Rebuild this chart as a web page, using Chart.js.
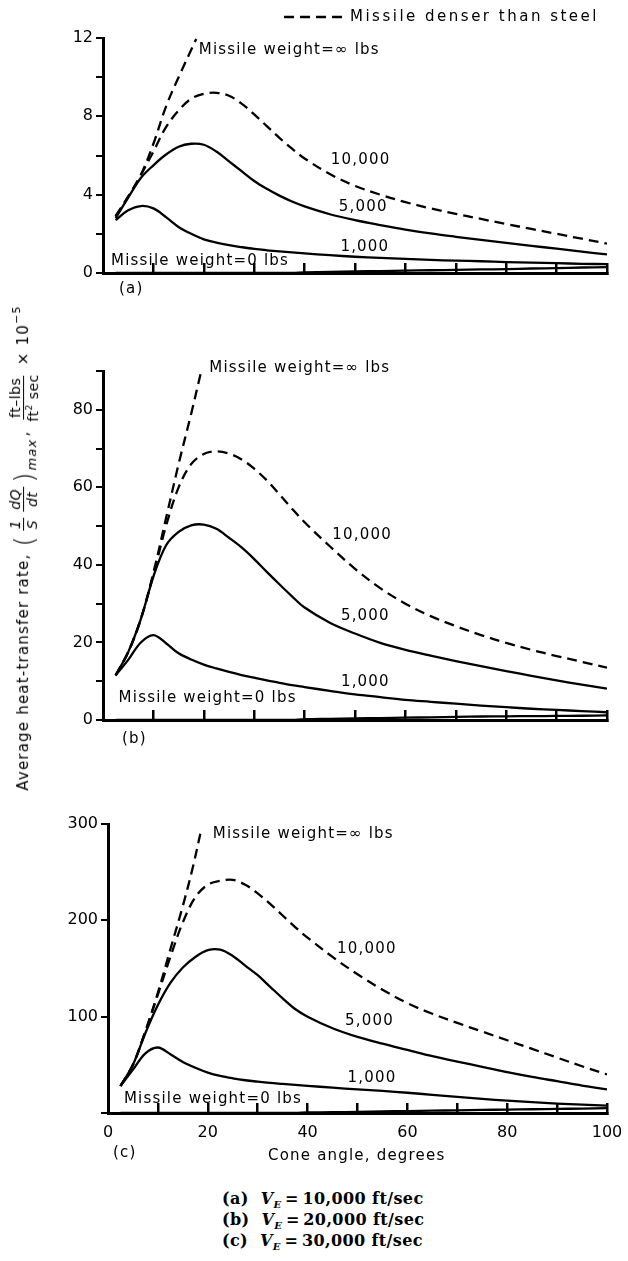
<!DOCTYPE html>
<html><head><meta charset="utf-8">
<script src="https://cdn.jsdelivr.net/npm/chart.js@4.4.1/dist/chart.umd.min.js"></script>
<style>
html,body{margin:0;padding:0;background:#fff;}
body{width:628px;height:1261px;position:relative;overflow:hidden;font-family:"DejaVu Sans",sans-serif;color:#000;}
canvas{position:absolute;left:0;}
.t{position:absolute;white-space:nowrap;font-size:15px;letter-spacing:1.2px;line-height:1;}
#ytitle{left:24px;top:548px;transform:translate(-50%,-50%) rotate(-90deg);display:flex;align-items:center;}
.fr{display:inline-flex;flex-direction:column;align-items:center;font-size:14px;line-height:1.15;margin:0 3px;letter-spacing:0.5px;}
.fr .n{border-bottom:1px solid #000;padding:0 2px;}
.i{font-style:italic;}
.big{font-size:26px;font-weight:200;margin:0 1px;}
.sub{font-size:13px;position:relative;top:8px;font-style:italic;margin-right:2px;}
.sup{font-size:11px;position:relative;top:-7px;}
.cap{position:absolute;left:222px;top:1188px;font-family:"DejaVu Serif",serif;font-weight:bold;font-size:16px;letter-spacing:0.4px;line-height:21px;white-space:nowrap;}
.cap div{height:21px;}
.cap .e{font-size:10px;position:relative;top:4px;line-height:0;}
</style></head><body>
<canvas id="ca" width="628" height="300" style="top:0;width:628px;height:300px"></canvas>
<canvas id="cb" width="628" height="420" style="top:330px;width:628px;height:420px"></canvas>
<canvas id="cc" width="628" height="380" style="top:780px;width:628px;height:380px"></canvas>

<div id="ytitle" class="t">Average heat-transfer rate,&nbsp;<span class="big">(</span><span class="fr i"><span class="n">1</span><span>S</span></span><span class="fr i"><span class="n">dQ</span><span>dt</span></span><span class="big">)</span><span class="sub">max</span>,&nbsp;<span class="fr"><span class="n">ft–lbs</span><span>ft<sup style="font-size:9px">2</sup> sec</span></span>&nbsp;× 10<span class="sup">−5</span></div>

<div class="t" style="left:119px;top:281px;">(a)</div>
<div class="t" style="left:122px;top:731px;">(b)</div>
<div class="t" style="left:113px;top:1145px;">(c)</div>
<div class="t" style="left:268px;top:1148px;">Cone angle, degrees</div>

<div class="cap">
<div>(a)&nbsp;&nbsp;<i>V<span class="e">E</span></i>&thinsp;=&thinsp;10,000 ft/sec</div>
<div>(b)&nbsp;&nbsp;<i>V<span class="e">E</span></i>&thinsp;=&thinsp;20,000 ft/sec</div>
<div>(c)&nbsp;&nbsp;<i>V<span class="e">E</span></i>&thinsp;=&thinsp;30,000 ft/sec</div>
</div>

<script>
// ---- data (cone angle, degrees) ----
const angles = [2.5,5,7.5,10,12.5,15,17.5,20,22.5,25,27.5,30,32.5,35,37.5,40,45,50,55,60,65,70,75,80,85,90,95,100];

// Panel (a) V_E = 10,000 ft/sec  (x10^-5)
const infAnglesA = [2.5,5,7.5,10,12.5,15,17.5,18.5];
const infA   = [2.9,3.9,5.0,6.6,8.5,10.0,11.4,11.95];
const w10000A = [2.9,3.9,5.0,6.2,7.45,8.3,8.9,9.15,9.2,9.05,8.65,8.1,7.5,6.9,6.35,5.85,5.05,4.45,4.0,3.62,3.3,3.02,2.76,2.5,2.25,2.0,1.75,1.5];
const w5000A  = [2.8,3.85,4.85,5.5,6.05,6.45,6.6,6.55,6.2,5.7,5.2,4.7,4.3,3.95,3.65,3.4,3.0,2.7,2.45,2.22,2.02,1.85,1.69,1.54,1.39,1.24,1.09,0.95];
const w1000A  = [2.7,3.2,3.42,3.3,2.85,2.35,2.0,1.72,1.55,1.42,1.32,1.23,1.16,1.1,1.05,1.0,0.91,0.83,0.77,0.72,0.67,0.63,0.6,0.56,0.53,0.5,0.47,0.45];
const w0A     = [0,0,0,0,0,0,0,0,0,0,0,0,0,0,0,0.03,0.06,0.08,0.1,0.12,0.14,0.16,0.18,0.2,0.23,0.25,0.28,0.3];

// Panel (b) V_E = 20,000 ft/sec
const infAnglesB = [2.5,5,7.5,10,12.5,15,17.5,19.5];
const infB   = [11.5,17.5,26,38,52,66,79,90];
const w10000B = [11.5,17.5,26,37.5,50,60,66,68.6,69.3,68.7,67.2,64.8,61.8,58.2,54.5,51,44.8,39,34,30,26.8,24.2,21.9,19.9,18.1,16.5,15,13.5];
const w5000B  = [11.5,17.5,26,37,45,48.5,50.2,50.4,49.3,47,44.5,41.5,38.2,35,31.9,29,25.1,22.3,19.9,18.1,16.6,15.2,13.9,12.6,11.4,10.2,9.1,8.1];
const w1000B  = [11.5,15.5,20,21.9,19.8,17.2,15.6,14.3,13.3,12.4,11.6,10.9,10.2,9.6,9.0,8.5,7.5,6.6,5.9,5.2,4.7,4.2,3.7,3.3,2.9,2.6,2.3,2.0];
const w0B     = [0,0,0,0,0,0,0,0,0,0,0,0,0,0,0,0.2,0.3,0.4,0.5,0.6,0.7,0.8,0.9,0.95,1.0,1.05,1.1,1.2];

// Panel (c) V_E = 30,000 ft/sec
const infAnglesC = [2.5,5,7.5,10,12.5,15,17,18.5];
const infC   = [28,50,85,125,170,215,255,290];
const w10000C = [28,50,85,123,162,198,224,237,241,242,237,228,217,205,193,182,162,144,128,114,103,93.5,84.5,75.5,66.5,57.5,48.5,40];
const w5000C  = [28,50,83,112,135,151,162,169,169.5,163,153,143,131,119,108,100,88,79,72,65.5,59,53.3,48,42.5,37.5,33,28.5,24.5];
const w1000C  = [28,45,62,68,61,53,47,42,38.5,36,34,32.5,31.2,30.2,29.2,28.2,26.3,24.5,22.9,21,18.9,16.7,14.6,12.8,11.2,9.8,8.7,7.7];
const w0C     = [0,0,0,0,0,0,0,0,0,0,0,0,0,0,0,0.5,0.8,1.2,1.6,2,2.4,2.8,3.2,3.5,3.9,4.2,4.6,5];

const xTickMarks = [0,10,20,30,40,50,60,70,80,90,100];
const xTickLabels = [0,20,40,60,80,100];
const legendText = 'Missile denser than steel';

// curve labels (data coordinates)
const labelsA = [
  {text:'Missile weight=∞ lbs', x:19, y:11.4},
  {text:'10,000', x:45.2, y:5.77},
  {text:'5,000', x:46.8, y:3.37},
  {text:'1,000', x:47.1, y:1.33},
  {text:'Missile weight=0 lbs', x:1.6, y:0.6}
];
const labelsB = [
  {text:'Missile weight=∞ lbs', x:21.1, y:90.8},
  {text:'10,000', x:45.5, y:47.6},
  {text:'5,000', x:47.2, y:26.8},
  {text:'1,000', x:47.2, y:9.9},
  {text:'Missile weight=0 lbs', x:3.1, y:5.7}
];
const labelsC = [
  {text:'Missile weight=∞ lbs', x:21, y:290},
  {text:'10,000', x:45.9, y:170},
  {text:'5,000', x:47.5, y:95.5},
  {text:'1,000', x:48, y:36},
  {text:'Missile weight=0 lbs', x:3.2, y:14.5}
];

const pts = (xs, ys) => xs.map((a,i)=>({x:a, y:ys[i]}));
const DASH = [10,6];
function sets(inf, infX, w10, w5, w1, w0){
  return [
    {label:'∞ lbs', data:pts(infX, inf), borderDash:DASH},
    {label:'10,000 lbs', data:pts(angles, w10), borderDash:DASH},
    {label:'5,000 lbs', data:pts(angles, w5)},
    {label:'1,000 lbs', data:pts(angles, w1)},
    {label:'0 lbs', data:pts(angles, w0)}
  ];
}

const annotate = {
  id:'annotate',
  afterDraw(chart, args, o){
    const {ctx, scales:{x, y}} = chart;
    ctx.save();
    ctx.fillStyle = '#000';
    ctx.font = '15px "DejaVu Sans"';
    ctx.letterSpacing = '1.2px';
    ctx.textBaseline = 'middle'; ctx.textAlign = 'left';
    o.items.forEach(l => ctx.fillText(l.text, x.getPixelForValue(l.x), y.getPixelForValue(l.y)));
    if (o.legend) {
      ctx.strokeStyle = '#000';
      ctx.lineWidth = 2.3; ctx.setLineDash(DASH);
      ctx.beginPath(); ctx.moveTo(284, 17); ctx.lineTo(346, 17); ctx.stroke();
      ctx.setLineDash([]);
      ctx.letterSpacing = '2.5px';
      ctx.fillText(legendText, 350, 17);
    }
    ctx.restore();
  }
};

const tickFont = {family:'DejaVu Sans', size:16};

function make(id, ds, c){
  return new Chart(document.getElementById(id), {
    type:'line',
    data:{datasets:ds},
    options:{
      responsive:false, animation:false,
      layout:{padding:{top:c.top, right:21, bottom:0, left:0}},
      elements:{point:{radius:0}, line:{borderWidth:2.3, borderColor:'#000', tension:0.35, fill:false}},
      plugins:{legend:{display:false}, tooltip:{enabled:false}, annotate:{items:c.items, legend:!!c.legend}},
      scales:{
        x:{type:'linear', min:0, max:100,
           afterFit:s=>{s.height = c.xh; s.paddingLeft = 0; s.paddingRight = 0;},
           grid:{display:true, drawOnChartArea:false, drawTicks:true, tickLength:-10, color:'#000', lineWidth:2.5},
           border:{display:true, color:'#000', width:3},
           ticks:{display:!!c.xlabels, autoSkip:false, maxRotation:0, padding:20, color:'#000', font:tickFont,
                  callback:v=> xTickLabels.includes(v) ? String(v) : ''},
           afterBuildTicks:s=>{ s.ticks = xTickMarks.map(v=>({value:v})); }
        },
        y:{type:'linear', min:0, max:c.ymax,
           afterFit:s=>{s.width = c.yw;},
           grid:{display:true, drawOnChartArea:false, drawTicks:true, tickLength:7, color:'#000', lineWidth:2},
           border:{display:true, color:'#000', width:3},
           ticks:{stepSize:c.step, autoSkip:false, padding:3, color:'#000', font:tickFont, callback:c.yl}
        }
      }
    },
    plugins:[annotate]
  });
}

make('ca', sets(infA, infAnglesA, w10000A, w5000A, w1000A, w0A),
  {top:38, xh:27, ymax:12, step:2, yw:103, items:labelsA, legend:true,
   yl:v=> v%4===0 ? String(v) : ''});
make('cb', sets(infB, infAnglesB, w10000B, w5000B, w1000B, w0B),
  {top:41, xh:30, ymax:90, step:10, yw:103, items:labelsB,
   yl:v=> v%20===0 ? String(v) : ''});
make('cc', sets(infC, infAnglesC, w10000C, w5000C, w1000C, w0C),
  {top:44, xh:47, ymax:300, step:100, yw:108, items:labelsC, xlabels:true,
   yl:v=> v===0 ? '' : String(v)});
</script>
</body></html>
